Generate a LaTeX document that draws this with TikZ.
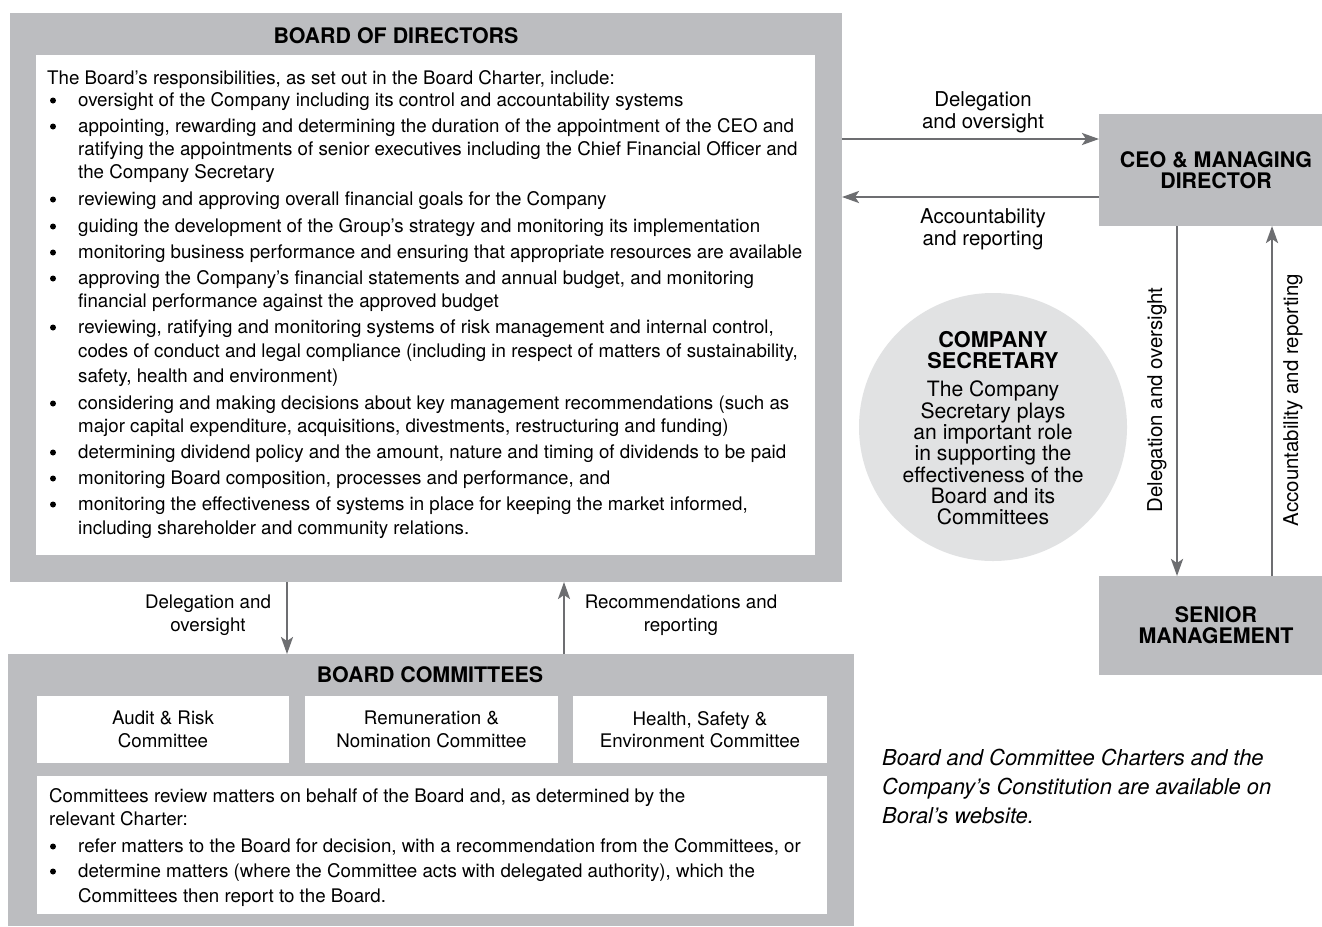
\documentclass[tikz,border=0pt]{standalone}
\usepackage{fontspec}
\setmainfont{TeX Gyre Heros}
\usetikzlibrary{arrows.meta}
\definecolor{boxgray}{RGB}{188,189,192}
\definecolor{circgray}{RGB}{225,226,227}
\definecolor{arrgray}{RGB}{109,110,113}
\newcommand\myBody{\fontsize{18.8}{22.5}\selectfont}
\newcommand\myHead{\bfseries\fontsize{21.5}{21}\selectfont}
\newcommand\myLbl{\fontsize{20.5}{22}\selectfont}
\newcommand\myCirc{\fontsize{21.2}{21.4}\selectfont}
\newcommand\myCircHead{\bfseries\fontsize{21.8}{21.4}\selectfont}
\newcommand\myItal{\itshape\fontsize{22}{29.5}\selectfont}
\begin{document}
\begin{tikzpicture}[x=1bp,y=-1bp,
  graybox/.style={rectangle, fill=boxgray, draw=none, inner sep=0pt, outer sep=0pt},
  whitebox/.style={rectangle, fill=white, draw=none, inner sep=0pt, outer sep=0pt, align=center, font=\myBody},
  head/.style={font=\myHead, inner sep=0pt},
  txt/.style={font=\myBody, inner sep=0pt, anchor=base west},
  bul/.style={circle, fill=black, inner sep=0pt, minimum size=6bp},
  lbl/.style={font=\myLbl, inner sep=0pt, align=center},
  lbls/.style={font=\myBody, inner sep=0pt, align=center},
  arr/.style={draw=arrgray, line width=2.6bp, -{Stealth[length=17bp,width=12bp,inset=4bp]}},
]
\path[use as bounding box, fill=white] (0,0) rectangle (1322,926);

% Board of directors
\node[graybox, minimum width=832bp, minimum height=569bp] (bod) at (426,297.5) {};
\node[graybox, fill=white, minimum width=779bp, minimum height=500bp] (bodin) at (425.5,305) {};
\node[head] (bodt) at (396,36) {BOARD OF DIRECTORS};
\node[txt] (bh) at (47,84) {The Board’s responsibilities, as set out in the Board Charter, include:};
\foreach \yy/\tx/\bb [count=\i] in {
 106/{oversight of the Company including its control and accountability systems}/1,
 132/{appointing, rewarding and determining the duration of the appointment of the CEO and}/1,
 155/{ratifying the appointments of senior executives including the Chief Financial Officer and}/0,
 178/{the Company Secretary}/0,
 205/{reviewing and approving overall financial goals for the Company}/1,
 232/{guiding the development of the Group’s strategy and monitoring its implementation}/1,
 258/{monitoring business performance and ensuring that appropriate resources are available}/1,
 284/{approving the Company’s financial statements and annual budget, and monitoring}/1,
 307/{financial performance against the approved budget}/0,
 333/{reviewing, ratifying and monitoring systems of risk management and internal control,}/1,
 357/{codes of conduct and legal compliance (including in respect of matters of sustainability,}/0,
 382/{safety, health and environment)}/0,
 409/{considering and making decisions about key management recommendations (such as}/1,
 432/{major capital expenditure, acquisitions, divestments, restructuring and funding)}/0,
 458/{determining dividend policy and the amount, nature and timing of dividends to be paid}/1,
 484/{monitoring Board composition, processes and performance, and}/1,
 510/{monitoring the effectiveness of systems in place for keeping the market informed,}/1,
 534/{including shareholder and community relations.}/0}
{
  \node[txt] (bl\i) at (78,\yy) {\tx};
  \ifnum\bb=1 \node[bul] (bu\i) at (53,\yy-5.5) {};\fi
}

% Board committees
\node[graybox, minimum width=846bp, minimum height=272bp] (com) at (431,790) {};
\node[head] (comt) at (430,675) {BOARD COMMITTEES};
\node[whitebox, minimum width=252bp, minimum height=67bp] (c1) at (163,729.5) {Audit \& Risk\\Committee};
\node[whitebox, minimum width=253bp, minimum height=67bp] (c2) at (431.5,729.5) {Remuneration \&\\Nomination Committee};
\node[whitebox, minimum width=254bp, minimum height=67bp] (c3) at (700,729.5) {Health, Safety \&\\Environment Committee};
\node[whitebox, minimum width=790bp, minimum height=138bp] (comin) at (432,845) {};
\node[txt] (ch1) at (49,802) {Committees review matters on behalf of the Board and, as determined by the};
\node[txt] (ch2) at (49,825) {relevant Charter:};
\node[txt] (ct1) at (78,852) {refer matters to the Board for decision, with a recommendation from the Committees, or};
\node[bul] (cb1) at (53,846.5) {};
\node[txt] (ct2) at (78,877) {determine matters (where the Committee acts with delegated authority), which the};
\node[bul] (cb2) at (53,871.5) {};
\node[txt] (ct3) at (78,902) {Committees then report to the Board.};

% CEO and senior management
\node[graybox, minimum width=234bp, minimum height=112bp, font=\myHead, align=center] (ceo) at (1216,170) {CEO \& MANAGING\\DIRECTOR};
\node[graybox, minimum width=234bp, minimum height=99bp, font=\myHead, align=center] (sen) at (1216,625.5) {SENIOR\\MANAGEMENT};

% Company secretary
\node[circle, fill=circgray, minimum size=268bp, inner sep=0pt] (sec) at (993,427) {};
\node[font=\myCirc, align=center, inner sep=0pt] (sect) at (993,428) {{\myCircHead COMPANY}\\{\myCircHead SECRETARY}\\[7bp]The Company\\Secretary plays\\an important role\\in supporting the\\effectiveness of the\\Board and its\\Committees};

% arrows
\coordinate (h1) at (0,139);
\coordinate (h2) at (0,197);
\coordinate (v1) at (1177,0);
\coordinate (v2) at (1272,0);
\coordinate (v3) at (287,0);
\coordinate (v4) at (564,0);
\draw[arr] (bod.east |- h1) -- (ceo.west |- h1);
\draw[arr] (ceo.west |- h2) -- (bod.east |- h2);
\draw[arr] (ceo.south -| v1) -- (sen.north -| v1);
\draw[arr] (sen.north -| v2) -- (ceo.south -| v2);
\draw[arr, line width=2.2bp] (bod.south -| v3) -- (com.north -| v3);
\draw[arr, line width=2.2bp] (com.north -| v4) -- (bod.south -| v4);

% labels
\node[lbl] (l1) at (983,112) {Delegation\\and oversight};
\node[lbl] (l2) at (983,229) {Accountability\\and reporting};
\node[lbl, rotate=90] (l3) at (1157,400) {Delegation and oversight};
\node[lbl, rotate=90] (l4) at (1293,400) {Accountability and reporting};
\node[lbls] (l5) at (208,615) {Delegation and\\oversight};
\node[lbls] (l6) at (681,615) {Recommendations and\\reporting};

% note
\node[txt, font=\myItal] (n1) at (882,765) {Board and Committee Charters and the};
\node[txt, font=\myItal] (n2) at (882,794) {Company’s Constitution are available on};
\node[txt, font=\myItal] (n3) at (882,823) {Boral’s website.};
\end{tikzpicture}
\end{document}
